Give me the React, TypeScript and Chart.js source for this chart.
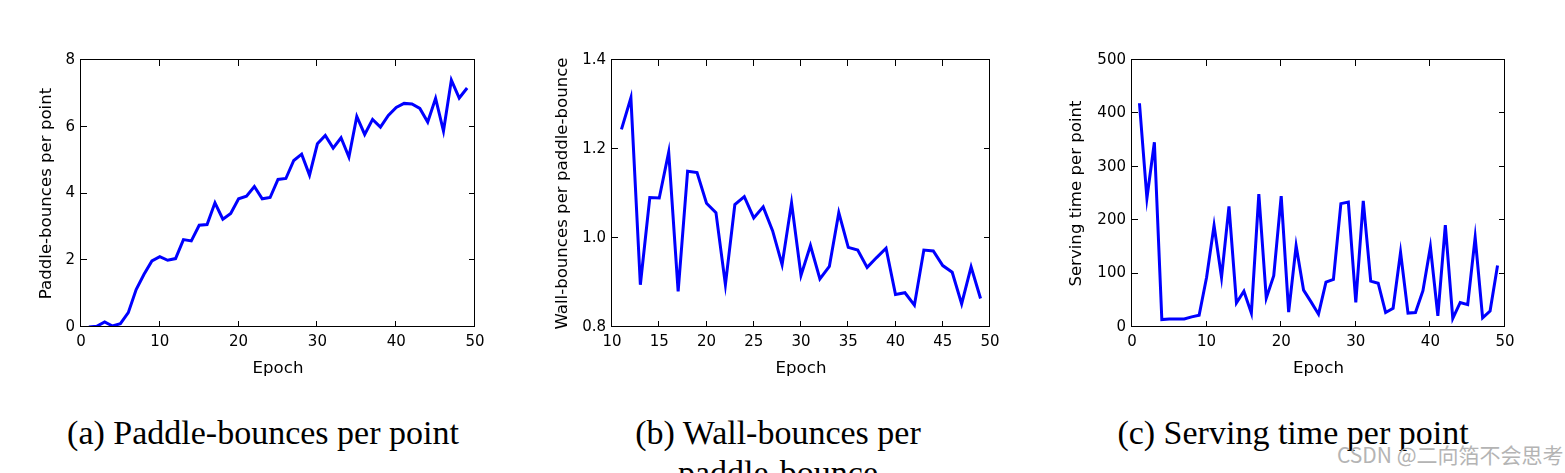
import React, { useEffect, useRef } from "react";
import { Chart, registerables } from "chart.js";

Chart.register(...registerables);

// ---------- data ----------
const epochsA = [1, 2, 3, 4, 5, 6, 7, 8, 9, 10, 11, 12, 13, 14, 15, 16, 17, 18, 19, 20, 21, 22, 23, 24, 25, 26, 27, 28, 29, 30, 31, 32, 33, 34, 35, 36, 37, 38, 39, 40, 41, 42, 43, 44, 45, 46, 47, 48, 49];
const paddleBounces = [0.0, 0.02, 0.15, 0.03, 0.1, 0.43, 1.12, 1.58, 1.98, 2.11, 2.0, 2.05, 2.62, 2.58, 3.05, 3.07, 3.72, 3.23, 3.4, 3.84, 3.92, 4.21, 3.84, 3.88, 4.42, 4.45, 4.99, 5.18, 4.55, 5.49, 5.74, 5.36, 5.67, 5.09, 6.31, 5.77, 6.22, 5.99, 6.34, 6.58, 6.7, 6.68, 6.55, 6.14, 6.85, 5.87, 7.4, 6.86, 7.16];

const epochsB = [11, 12, 13, 14, 15, 16, 17, 18, 19, 20, 21, 22, 23, 24, 25, 26, 27, 28, 29, 30, 31, 32, 33, 34, 35, 36, 37, 38, 39, 40, 41, 42, 43, 44, 45, 46, 47, 48, 49];
const wallBounces = [1.244, 1.315, 0.895, 1.091, 1.09, 1.193, 0.88, 1.15, 1.147, 1.078, 1.057, 0.895, 1.075, 1.093, 1.045, 1.07, 1.016, 0.94, 1.079, 0.916, 0.983, 0.908, 0.936, 1.057, 0.979, 0.973, 0.934, 0.956, 0.977, 0.873, 0.877, 0.849, 0.973, 0.971, 0.938, 0.923, 0.852, 0.935, 0.864];

const epochsC = [1, 2, 3, 4, 5, 6, 7, 8, 9, 10, 11, 12, 13, 14, 15, 16, 17, 18, 19, 20, 21, 22, 23, 24, 25, 26, 27, 28, 29, 30, 31, 32, 33, 34, 35, 36, 37, 38, 39, 40, 41, 42, 43, 44, 45, 46, 47, 48, 49];
const servingTime = [419, 241, 346, 14, 15, 15, 15, 19, 22, 93, 190, 93, 226, 45, 67, 26, 249, 54, 96, 245, 28, 152, 69, 47, 24, 84, 89, 231, 234, 46, 236, 86, 82, 27, 35, 140, 26, 27, 68, 150, 21, 191, 16, 46, 42, 168, 17, 30, 115];

const xTicksA = [0, 10, 20, 30, 40, 50];
const yTicksA = [0, 2, 4, 6, 8];
const xTicksB = [10, 15, 20, 25, 30, 35, 40, 45, 50];
const yTicksB = [0.8, 1.0, 1.2, 1.4];
const xTicksC = [0, 10, 20, 30, 40, 50];
const yTicksC = [0, 100, 200, 300, 400, 500];

const xTitle = "Epoch";
const yTitleA = "Paddle-bounces per point";
const yTitleB = "Wall-bounces per paddle-bounce";
const yTitleC = "Serving time per point";

const captionA = "(a) Paddle-bounces per point";
const captionB1 = "(b) Wall-bounces per";
const captionB2 = "paddle-bounce";
const captionC = "(c) Serving time per point";
const watermark = "CSDN @二向箔不会思考";

// ---------- chart ----------
const CANVAS_H = 400;
const TICK_FONT = 15;
const TITLE_FONT = 16.6;

const boxTicksPlugin = {
  id: "boxTicks",
  afterDraw(chart: any) {
    const { ctx, chartArea } = chart;
    const { left, right, top, bottom } = chartArea;
    const len = 6;
    ctx.save();
    ctx.strokeStyle = "#000";
    ctx.lineWidth = 1;
    ctx.beginPath();
    const xs = chart.scales.x;
    xs.ticks.forEach((t: any) => {
      const px = Math.round(xs.getPixelForValue(t.value)) - 0.5;
      ctx.moveTo(px, bottom);
      ctx.lineTo(px, bottom - len);
      ctx.moveTo(px, top);
      ctx.lineTo(px, top + len);
    });
    const ys = chart.scales.y;
    ys.ticks.forEach((t: any) => {
      const py = Math.round(ys.getPixelForValue(t.value)) - 0.5;
      ctx.moveTo(left, py);
      ctx.lineTo(left + len, py);
      ctx.moveTo(right, py);
      ctx.lineTo(right - len, py);
    });
    ctx.stroke();
    ctx.strokeRect(left - 0.5, top - 0.5, right - left, bottom - top);
    ctx.restore();
  },
};

type PlotProps = {
  left: number;
  width: number;
  xs: number[];
  ys: number[];
  xTicks: number[];
  yTicks: number[];
  yTitle: string;
  decimals: number;
  padLeft: number;
  yWidth: number;
  padRight: number;
};

function Plot(p: PlotProps) {
  const ref = useRef<HTMLCanvasElement | null>(null);
  useEffect(() => {
    if (!ref.current) return;
    const fontFamily = "'DejaVu Sans', sans-serif";
    const chart = new Chart(ref.current, {
      type: "line",
      data: {
        datasets: [
          {
            data: p.xs.map((x, i) => ({ x, y: p.ys[i] })),
            borderColor: "#0000ff",
            borderWidth: 3,
            pointRadius: 0,
            tension: 0,
            fill: false,
          },
        ],
      },
      options: {
        responsive: false,
        animation: false,
        devicePixelRatio: 1,
        layout: {
          padding: { left: p.padLeft, right: p.padRight, top: 60, bottom: 21 },
        },
        plugins: { legend: { display: false }, tooltip: { enabled: false } },
        scales: {
          x: {
            type: "linear",
            min: p.xTicks[0],
            max: p.xTicks[p.xTicks.length - 1],
            afterBuildTicks: (s: any) => {
              s.ticks = p.xTicks.map((v) => ({ value: v }));
            },
            afterFit: (s: any) => {
              s.height = 52;
            },
            grid: { display: false, drawTicks: false },
            border: { display: false },
            ticks: {
              autoSkip: false,
              maxRotation: 0,
              padding: 6,
              color: "#000",
              font: { family: fontFamily, size: TICK_FONT },
              callback: (v: any) => String(v),
            },
            title: {
              display: true,
              text: xTitle,
              color: "#000",
              padding: 0,
              font: { family: fontFamily, size: TITLE_FONT },
            },
          },
          y: {
            type: "linear",
            min: p.yTicks[0],
            max: p.yTicks[p.yTicks.length - 1],
            afterBuildTicks: (s: any) => {
              s.ticks = p.yTicks.map((v) => ({ value: v }));
            },
            afterFit: (s: any) => {
              s.width = p.yWidth;
            },
            grid: { display: false, drawTicks: false },
            border: { display: false },
            ticks: {
              autoSkip: false,
              padding: 6,
              color: "#000",
              font: { family: fontFamily, size: TICK_FONT },
              callback: (v: any) => Number(v).toFixed(p.decimals),
            },
            title: {
              display: true,
              text: p.yTitle,
              color: "#000",
              padding: 0,
              font: { family: fontFamily, size: TITLE_FONT },
            },
          },
        },
      },
      plugins: [boxTicksPlugin],
    } as any);
    return () => chart.destroy();
  }, []);
  return (
    <canvas
      ref={ref}
      width={p.width}
      height={CANVAS_H}
      style={{ position: "absolute", left: p.left, top: 0, width: p.width, height: CANVAS_H }}
    />
  );
}

const captionStyle: React.CSSProperties = {
  position: "absolute",
  top: 413,
  width: 560,
  textAlign: "center",
  fontFamily: "'Liberation Serif', 'Times New Roman', serif",
  fontSize: 34,
  lineHeight: "40px",
  color: "#000",
  whiteSpace: "nowrap",
};

export default function App() {
  return (
    <div
      style={{
        position: "absolute",
        left: 0,
        top: 0,
        width: 1565,
        height: 473,
        overflow: "hidden",
        background: "#fff",
      }}
    >
      <Plot left={0} width={520} xs={epochsA} ys={paddleBounces} xTicks={xTicksA} yTicks={yTicksA} yTitle={yTitleA} decimals={0} padLeft={37} yWidth={44} padRight={45} />
      <Plot left={520} width={520} xs={epochsB} ys={wallBounces} xTicks={xTicksB} yTicks={yTicksB} yTitle={yTitleB} decimals={1} padLeft={33} yWidth={59} padRight={50} />
      <Plot left={1040} width={525} xs={epochsC} ys={servingTime} xTicks={xTicksC} yTicks={yTicksC} yTitle={yTitleC} decimals={0} padLeft={27} yWidth={65} padRight={60} />
      <div style={{ ...captionStyle, left: 263 - 280 }}>{captionA}</div>
      <div style={{ ...captionStyle, left: 778 - 280 }}>
        {captionB1}
        <br />
        {captionB2}
      </div>
      <div style={{ ...captionStyle, left: 1293 - 280 }}>{captionC}</div>
      <div
        style={{
          position: "absolute",
          left: 1337,
          top: 440,
          fontFamily: "'Noto Sans CJK SC', 'Noto Sans', sans-serif",
          fontSize: 21,
          lineHeight: "28px",
          color: "#b4b4b4",
          whiteSpace: "nowrap",
        }}
      >
        {watermark}
      </div>
    </div>
  );
}
